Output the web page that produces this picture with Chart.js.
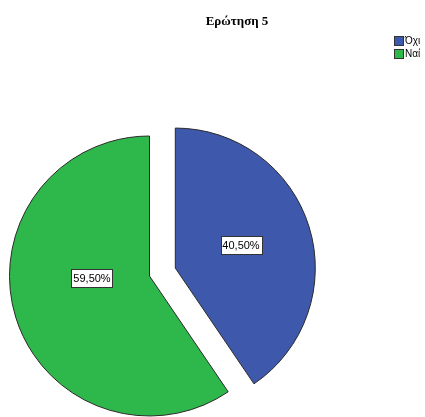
<!DOCTYPE html>
<html>
<head>
<meta charset="utf-8">
<script src="https://cdn.jsdelivr.net/npm/chart.js@4.4.0/dist/chart.umd.min.js"></script>
<style>
  html, body { margin: 0; padding: 0; background: #fff; overflow: hidden; }
  #chart { display: block; }
</style>
</head>
<body>
<canvas id="chart" width="425" height="417"></canvas>
<script>
// Chart data
var chartTitle = 'Ερώτηση 5';
var labels = ['Όχι', 'Ναί'];
var values = [40.5, 59.5];
var colors = ['#3e58ac', '#2eb84b'];

function fmtPct(v) {
    return v.toFixed(2).replace('.', ',') + '%';
}

// draws title, legend and the boxed value labels, and pulls the first slice out
var spssPie = {
    id: 'spssPie',
    afterDatasetUpdate: function(chart, args, opts) {
        args.meta.data.forEach(function(arc, i) {
            var e = opts.explode[i] || 0;
            if (!e) return;
            var mid = (arc.startAngle + arc.endAngle) / 2;
            arc.x += Math.cos(mid) * e;
            arc.y += Math.sin(mid) * e;
        });
    },
    afterDraw: function(chart, args, opts) {
        var ctx = chart.ctx;
        var meta = chart.getDatasetMeta(0);
        ctx.save();

        // value labels
        ctx.font = '11px "Liberation Sans", Arial, sans-serif';
        ctx.textAlign = 'center';
        ctx.textBaseline = 'middle';
        meta.data.forEach(function(arc, i) {
            var mid = (arc.startAngle + arc.endAngle) / 2 + opts.labelShift[i] * Math.PI / 180;
            var r = arc.outerRadius * opts.labelFrac[i];
            var x = arc.x + Math.cos(mid) * r;
            var y = arc.y + Math.sin(mid) * r;
            var txt = fmtPct(values[i]);
            var w = ctx.measureText(txt).width + 4;
            var h = 18;
            ctx.fillStyle = '#ffffff';
            ctx.fillRect(Math.round(x - w / 2) + 0.5, Math.round(y - h / 2) + 0.5, Math.round(w), h);
            ctx.strokeStyle = '#333333';
            ctx.lineWidth = 1;
            ctx.strokeRect(Math.round(x - w / 2) + 0.5, Math.round(y - h / 2) + 0.5, Math.round(w), h);
            ctx.fillStyle = '#000000';
            ctx.fillText(txt, Math.round(x), Math.round(y) + 1);
        });

        // title
        ctx.font = 'bold 13px "Liberation Serif", "Times New Roman", serif';
        ctx.fillStyle = '#000000';
        ctx.fillText(chartTitle, 237, 22);

        // legend
        ctx.font = '10px "Liberation Sans", Arial, sans-serif';
        ctx.textAlign = 'left';
        labels.forEach(function(lab, i) {
            var y = 36 + i * 13;
            ctx.fillStyle = colors[i];
            ctx.fillRect(394.5, y + 0.5, 9, 9);
            ctx.strokeStyle = '#333333';
            ctx.strokeRect(394.5, y + 0.5, 9, 9);
            ctx.fillStyle = '#000000';
            ctx.fillText(lab, 405, y + 5.5);
        });
        ctx.restore();
    }
};

var ctx = document.getElementById('chart').getContext('2d');
var pieChart = new Chart(ctx, {
    type: 'pie',
    data: {
        labels: labels,
        datasets: [{
            data: values,
            backgroundColor: colors,
            borderColor: '#2a2a2a',
            borderWidth: 1,
            radius: 140,
            clip: false
        }]
    },
    options: {
        responsive: false,
        animation: false,
        events: [],
        devicePixelRatio: 1,
        layout: {
            padding: { left: 0, right: 126, top: 135, bottom: 0 }
        },
        plugins: {
            legend: { display: false },
            title: { display: false },
            tooltip: { enabled: false },
            spssPie: {
                explode: [27, 0],
                labelFrac: [0.5, 0.41],
                labelShift: [-2, 15.6]
            }
        }
    },
    plugins: [spssPie]
});
</script>
</body>
</html>
